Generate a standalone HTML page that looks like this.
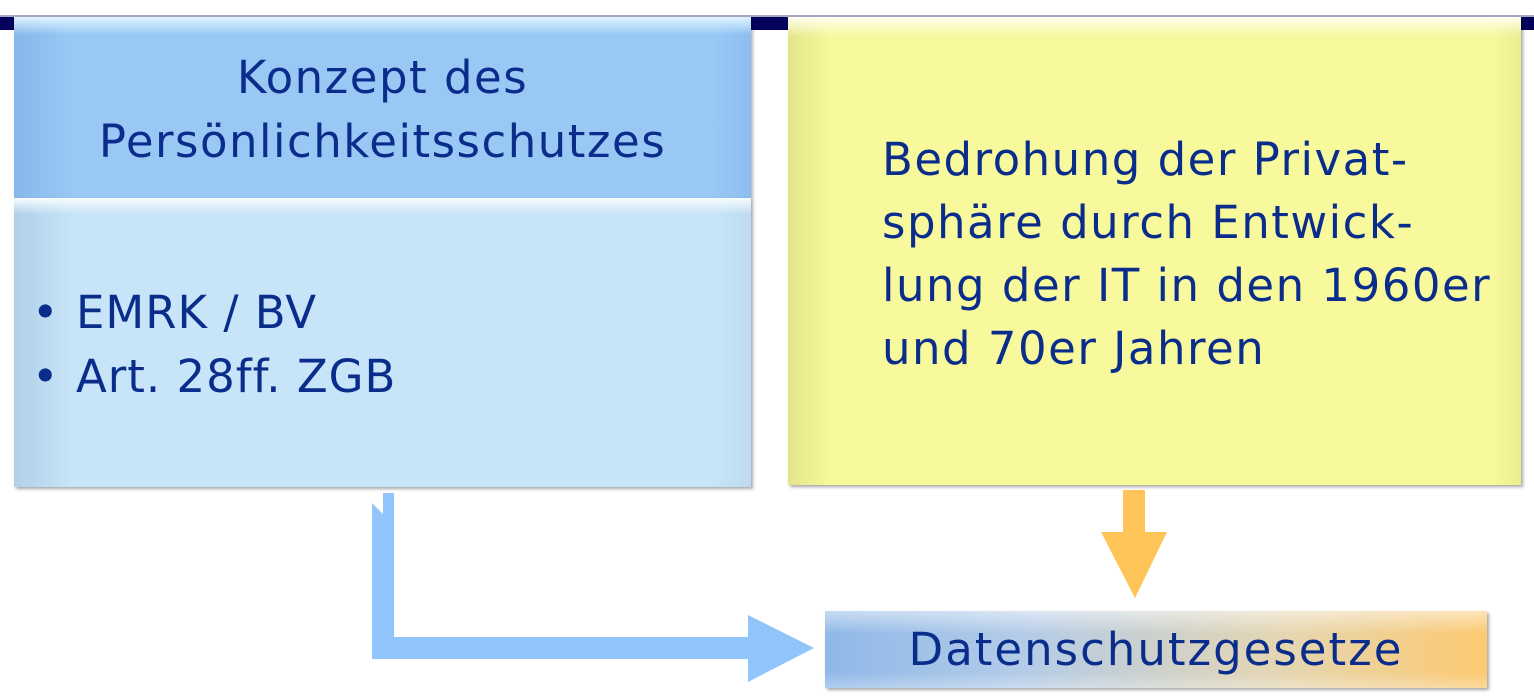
<!DOCTYPE html>
<html><head><meta charset="utf-8"><style>
body{margin:0;width:1534px;height:697px;background:#fff;position:relative;overflow:hidden;font-family:"DejaVu Sans","Liberation Sans",sans-serif;color:#0a2d8c}
div{position:absolute;box-sizing:border-box}
.t{font-size:45px;line-height:64px;letter-spacing:1.5px;word-spacing:0px;white-space:nowrap}
</style></head><body>
<div style="left:0;top:15px;width:1534px;height:2px;background:#a9a9c8"></div>
<div style="left:0;top:17px;width:1534px;height:13px;background:#03035e"></div>
<div style="left:14px;top:17px;width:737px;height:181px;background:linear-gradient(90deg,#86b8ea,#99c8f5 8%,#99c8f5 95%,#8cbdf0);box-shadow:2px 2px 3px rgba(0,0,0,.3)"></div>
<div style="left:14px;top:17px;width:737px;height:18px;background:linear-gradient(#e0f4ff,rgba(153,200,245,0))"></div>
<div style="left:14px;top:198px;width:737px;height:289px;background:linear-gradient(90deg,#b0d0ea,#c8e4f8 8%,#c8e4f8 95%,#bcdaf2);box-shadow:2px 2px 3px rgba(0,0,0,.35)"></div>
<div style="left:14px;top:198px;width:737px;height:16px;background:linear-gradient(#f8fdff,rgba(200,228,248,0))"></div>
<div class="t" style="left:14px;top:46px;width:737px;text-align:center">Konzept des<br>Persönlichkeitsschutzes</div>
<div class="t" style="left:32px;top:281px">•<br>•</div>
<div class="t" style="left:76px;top:281px;letter-spacing:1px">EMRK / BV<br>Art. 28ff. ZGB</div>
<div style="left:788px;top:17px;width:733px;height:468px;background:linear-gradient(90deg,#e4e48a,#f8f89c 6%,#f8f89c 96%,#ecec90);box-shadow:2px 2px 3px rgba(0,0,0,.35)"></div>
<div style="left:788px;top:17px;width:733px;height:20px;background:linear-gradient(#fffff0,rgba(248,248,156,0))"></div>
<div class="t" style="left:882px;top:128px;line-height:63px">Bedrohung der Privat-<br>sphäre durch Entwick-<br>lung der IT in den 1960er<br>und 70er Jahren</div>
<svg style="position:absolute;left:0;top:0" width="1534" height="697">
<polygon points="372,503 383,514 383,493 394,493 394,637 748,637 748,615 814,648 748,682 748,659 372,659" fill="#90c4fa"/>
<polygon points="1123,490 1145,490 1145,532 1167,532 1135,598 1101,532 1123,532" fill="#ffc457"/>
</svg>
<div style="left:825px;top:611px;width:662px;height:77px;background:linear-gradient(90deg,#8fb8e8,#b4cce8 30%,#e6d6b0 70%,#fcc970);box-shadow:2px 2px 3px rgba(0,0,0,.35)"></div>
<div style="left:825px;top:611px;width:662px;height:77px;background:linear-gradient(rgba(255,255,255,.5),rgba(255,255,255,0) 30%,rgba(255,255,255,0) 80%,rgba(255,255,255,.3))"></div>
<div class="t" style="left:825px;top:618px;width:662px;text-align:center;letter-spacing:2px">Datenschutzgesetze</div>
</body></html>
